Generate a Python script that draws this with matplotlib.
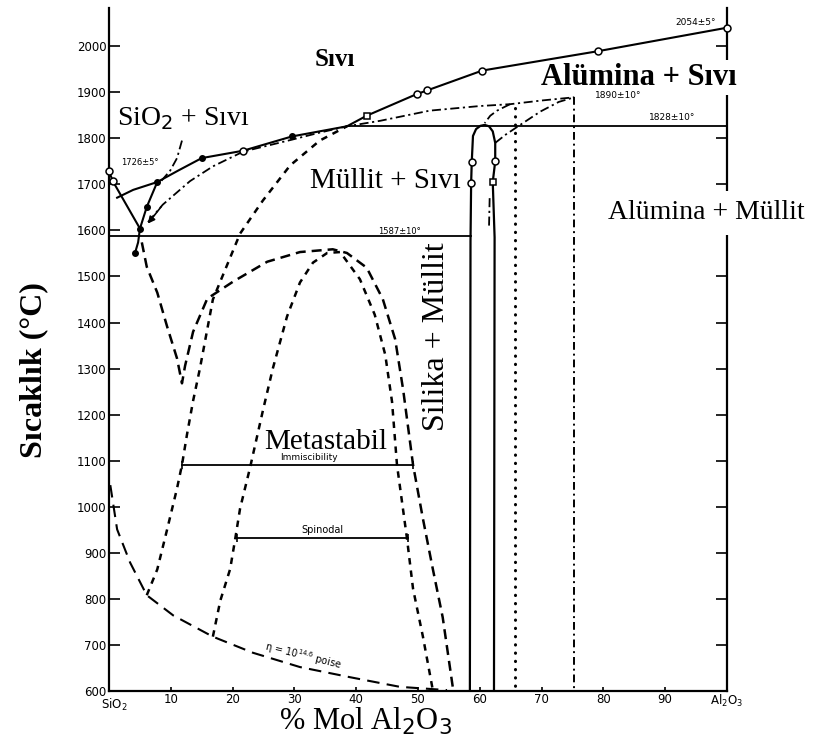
import matplotlib
matplotlib.use("Agg")
import matplotlib.pyplot as plt
from matplotlib.transforms import ScaledTranslation

# ---------------- data (x = % mol Al2O3, t = temperature in C) ----------------
liq_sio2_x = [0.0, 0.6, 5.0, 4.7, 4.2]
liq_sio2_t = [1728, 1707, 1604, 1574, 1551]

liq_main_x = [1.3, 3.9, 7.8, 11.2, 15.0, 21.7, 29.6, 38.5, 41.7, 49.8, 51.5, 60.4, 79.1, 100.0]
liq_main_t = [1671, 1688, 1705, 1730, 1757, 1773, 1804, 1826, 1849, 1896, 1904, 1947, 1989, 2040]

liq_eut_x = [5.0, 6.1, 7.8]
liq_eut_t = [1604, 1651, 1705]

open_pts_x = [0.0, 0.6, 21.7, 49.8, 51.5, 60.4, 79.1, 100.0]
open_pts_t = [1728, 1707, 1773, 1896, 1904, 1947, 1989, 2040]
fill_pts_x = [4.2, 5.0, 6.1, 7.8, 15.0, 29.6]
fill_pts_t = [1551, 1604, 1651, 1705, 1757, 1804]
sq_pts_x = [41.7, 62.1]
sq_pts_t = [1849, 1705]

crist_dd_x = [11.8, 11.0, 9.9, 8.3]
crist_dd_t = [1795, 1757, 1730, 1705]

mull_meta_x = [6.3, 8.7, 13.1, 16.8, 21.7, 29.6, 34.0, 38.5, 43.9, 51.9, 60.0, 64.9, 70.0, 75.3]
mull_meta_t = [1618, 1656, 1707, 1739, 1771, 1797, 1812, 1826, 1838, 1860, 1870, 1874, 1882, 1889]

mull_top_dd_x = [64.9, 62.8, 61.7, 60.8]
mull_top_dd_t = [1874, 1860, 1849, 1833]

mull_low_dd_x = [62.5, 64.2, 66.2, 69.8, 72.8, 75.3]
mull_low_dd_t = [1790, 1808, 1826, 1858, 1879, 1889]

mull_short_dd_x = [61.6, 61.5]
mull_short_dd_t = [1670, 1610]

mullite_x = [58.4, 58.5, 58.6, 58.7, 58.9, 59.4, 60.1, 60.8, 61.5, 62.1, 62.5, 62.5, 62.1, 62.4, 62.3]
mullite_t = [600, 1576, 1702, 1748, 1805, 1820, 1827, 1829, 1826, 1815, 1790, 1750, 1705, 1585, 600]
mull_circ_x = [58.7, 58.6, 62.5]
mull_circ_t = [1748, 1702, 1750]

dotted_v_x = [65.7, 65.7]
dotted_v_t = [1866, 600]
dashdot_v_x = [75.3, 75.3]
dashdot_v_t = [1889, 600]

eut_line_x = [0.0, 58.5]
eut_line_t = [1587, 1587]
peri_line_x = [38.5, 100.0]
peri_line_t = [1826, 1826]

immisc_x = [11.8, 49.2]
immisc_t = [1091, 1091]
spinod_x = [20.7, 48.4]
spinod_t = [933, 933]

visc_x = [0.2, 1.3, 3.4, 6.1, 10.4, 16.8, 23.3, 30.9, 39.0, 47.1, 54.7]
visc_t = [1047, 951, 879, 808, 764, 718, 683, 652, 630, 609, 602]

curveA_x = [6.1, 7.8, 9.4, 11.0, 11.8, 12.6, 13.6, 14.7, 16.8, 21.2, 24.9, 29.3, 34.1, 38.5]
curveA_t = [808, 864, 951, 1040, 1091, 1156, 1230, 1300, 1450, 1593, 1665, 1741, 1795, 1826]

dome_x = [5.3, 6.1, 7.8, 9.4, 11.0, 11.8, 12.3, 13.6, 15.9, 20.1, 25.6, 30.9, 36.2, 38.5, 41.7, 44.3,
          46.3, 47.6, 49.2, 50.8, 52.4, 54.0, 55.7]
dome_t = [1574, 1521, 1465, 1391, 1322, 1268, 1306, 1380, 1452, 1489, 1532, 1553, 1559, 1551, 1519, 1451,
          1364, 1254, 1091, 974, 865, 760, 602]

spin_dome_x = [16.8, 18.0, 19.6, 20.4, 21.2, 22.8, 24.9, 26.5, 28.8, 30.9, 33.0, 35.3, 37.4, 40.6, 43.0,
               44.7, 45.8, 46.6, 48.2, 49.2, 50.8, 52.4]
spin_dome_t = [718, 796, 865, 929, 996, 1084, 1209, 1300, 1413, 1487, 1530, 1551, 1553, 1494, 1417,
               1330, 1228, 1091, 933, 822, 718, 602]

y_ticks = [600, 700, 800, 900, 1000, 1100, 1200, 1300, 1400, 1500, 1600, 1700, 1800, 1900, 2000]
x_ticks = [0, 10, 20, 30, 40, 50, 60, 70, 80, 90, 100]
x_tick_labels = ["SiO$_2$", "10", "20", "30", "40", "50", "60", "70", "80", "90", "Al$_2$O$_3$"]

# ---------------- figure ----------------
fig = plt.figure(figsize=(8.14, 7.42), dpi=100)
ax = fig.add_axes([0.134, 0.0687, 0.759, 0.920])
ax.set_xlim(0, 100)
ax.set_ylim(600, 2082)

K = "black"
SERIF = ["Liberation Serif", "DejaVu Serif"]

ax.plot(liq_sio2_x, liq_sio2_t, color=K, lw=1.5)
ax.plot(liq_main_x, liq_main_t, color=K, lw=1.5, zorder=2.8)
ax.plot(liq_eut_x, liq_eut_t, color=K, lw=1.5)
ax.plot(mullite_x, mullite_t, color=K, lw=1.6)
ax.plot(eut_line_x, eut_line_t, color=K, lw=1.3)
ax.plot(peri_line_x, peri_line_t, color=K, lw=1.3)
ax.plot(immisc_x, immisc_t, color=K, lw=1.3, marker="|", ms=6, mew=1.2)
ax.plot(spinod_x, spinod_t, color=K, lw=1.3, marker="|", ms=6, mew=1.2)

dd = (0, (5, 2, 1.2, 2))
ax.plot(crist_dd_x, crist_dd_t, color=K, lw=1.3, linestyle=dd)
ax.plot(mull_meta_x, mull_meta_t, color=K, lw=1.3, linestyle=dd)
ax.plot(mull_top_dd_x, mull_top_dd_t, color=K, lw=1.3, linestyle=dd)
ax.plot(mull_low_dd_x, mull_low_dd_t, color=K, lw=1.3, linestyle=dd)
ax.plot(mull_short_dd_x, mull_short_dd_t, color=K, lw=1.3, linestyle=dd)
ax.plot(dashdot_v_x, dashdot_v_t, color=K, lw=1.4, linestyle=(0, (4, 2, 1, 2)))
ax.plot(dotted_v_x, dotted_v_t, color=K, lw=2.2, linestyle=(0, (0.1, 2.6)), dash_capstyle="round")

ax.plot(visc_x, visc_t, color=K, lw=1.5, linestyle=(0, (6, 3.5)))
ax.plot(curveA_x, curveA_t, color=K, lw=1.8, linestyle=(0, (2.6, 2.4)))
ax.plot(dome_x, dome_t, color=K, lw=1.8, linestyle=(0, (4, 2.4)))
ax.plot(spin_dome_x, spin_dome_t, color=K, lw=1.8, linestyle=(0, (2.6, 2.4)))

ax.plot(open_pts_x, open_pts_t, linestyle="none", marker="o", ms=5, mfc="white", mec=K, mew=1.1,
        clip_on=False, zorder=3)
ax.plot(mull_circ_x, mull_circ_t, linestyle="none", marker="o", ms=5, mfc="white", mec=K, mew=1.1)
ax.plot(sq_pts_x, sq_pts_t, linestyle="none", marker="s", ms=4.5, mfc="white", mec=K, mew=1.1, zorder=3)
ax.plot(fill_pts_x, fill_pts_t, linestyle="none", marker="o", ms=4, color=K, zorder=3)

ax.annotate("", xy=(mull_meta_x[0] - 0.3, mull_meta_t[0] - 8), xytext=(mull_meta_x[1], mull_meta_t[1]),
            arrowprops=dict(arrowstyle="-|>", color=K, lw=1.2, mutation_scale=10))

# ---------------- texts ----------------
ax.text(36.6, 1972, "Sıvı", family=SERIF, fontsize=18, fontweight="bold", ha="center", va="center")
ax.text(1.3, 1842, "SiO$_2$ + Sıvı", family=SERIF, fontsize=20, ha="left", va="center")
ax.text(32.5, 1707, "Müllit + Sıvı", family=SERIF, fontsize=21, ha="left", va="center")
ax.text(69.9, 1932, "Alümina + Sıvı", family=SERIF, fontsize=22, fontweight="bold", ha="left", va="center",
        clip_on=False, zorder=2.6, bbox=dict(facecolor="white", edgecolor="none", pad=2))
ax.text(80.8, 1638, "Alümina + Müllit", family=SERIF, fontsize=20, ha="left", va="center", clip_on=False,
        zorder=2.6, bbox=dict(facecolor="white", edgecolor="none", pad=7))
ax.text(53.0, 1370, "Silika + Müllit", family=SERIF, fontsize=23, rotation=90, ha="center", va="center")
ax.text(35.0, 1141, "Metastabil", family=SERIF, fontsize=21, ha="center", va="center")
ax.text(32.4, 1106, "Immiscibility", family=["DejaVu Sans"], fontsize=6.5, ha="center", va="center")
ax.text(34.5, 950, "Spinodal", family=["DejaVu Sans"], fontsize=7, ha="center", va="center")
ax.text(31.5, 676, "η = 10$^{14.6}$ poise", family=["DejaVu Sans"], fontsize=7, rotation=-14,
        ha="center", va="center")
ax.text(5.0, 1748, "1726±5°", family=["DejaVu Sans"], fontsize=6, ha="center", va="center")
ax.text(47.0, 1598, "1587±10°", family=["DejaVu Sans"], fontsize=6, ha="center", va="center")
ax.text(78.6, 1893, "1890±10°", family=["DejaVu Sans"], fontsize=6.5, ha="left", va="center")
ax.text(91.1, 1845, "1828±10°", family=["DejaVu Sans"], fontsize=6.5, ha="center", va="center")
ax.text(95.0, 2052, "2054±5°", family=["DejaVu Sans"], fontsize=6.5, ha="center", va="center")

ax.set_ylabel("Sıcaklık (°C)", family=SERIF, fontsize=23, fontweight="bold")
ax.yaxis.set_label_coords(-0.099, 0.47)
ax.set_xlabel("% Mol Al$_2$O$_3$", family=SERIF, fontsize=22, labelpad=0)
ax.xaxis.set_label_coords(0.415, -0.022)

# ---------------- axes styling ----------------
ax.spines["top"].set_visible(False)
for s in ["left", "right", "bottom"]:
    ax.spines[s].set_linewidth(1.6)
ax.set_yticks(y_ticks)
ax.set_yticklabels([str(v) for v in y_ticks], fontsize=8.5)
ax.set_xticks(x_ticks)
ax.set_xticklabels(x_tick_labels, fontsize=8.5)
ax.tick_params(axis="y", direction="in", length=8, width=1.2, right=True, left=True, pad=2)
ax.tick_params(axis="x", direction="in", length=3, width=1.2, pad=1.5)

# nudge the first x tick label so it does not collide with the "600" label
first = ax.get_xticklabels()[0]
first.set_transform(first.get_transform() + ScaledTranslation(5 / 100, -4 / 100, fig.dpi_scale_trans))

fig.savefig("out.png", dpi=100)
